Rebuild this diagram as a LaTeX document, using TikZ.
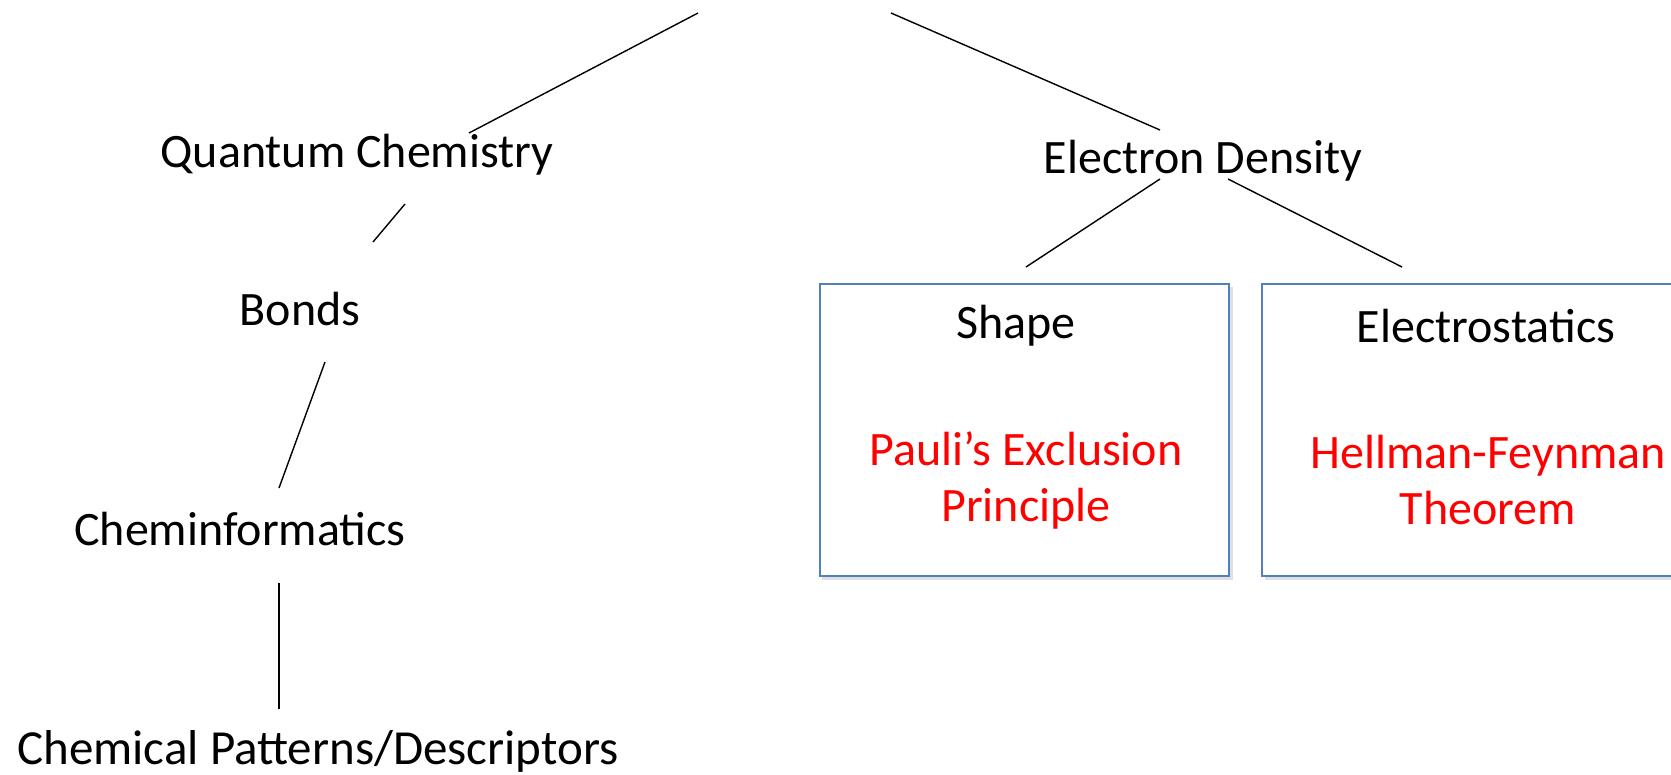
\documentclass[tikz,border=0pt]{standalone}
\usepackage{fontspec}
\setmainfont{Carlito}
\definecolor{boxblue}{RGB}{79,129,189}
\definecolor{txtred}{RGB}{255,0,0}
\begin{document}
\begin{tikzpicture}[x=1pt,y=-1pt,
  lbl/.style={font=\fontsize{48}{56}\selectfont, inner sep=0pt, anchor=center, align=center},
  redlbl/.style={lbl, text=txtred},
  panel/.style={draw=boxblue, line width=1.6pt, fill=white},
  shadowbox/.style={fill=black!12, draw=none},
  conn/.style={line width=1.4pt, black}]
\useasboundingbox (0,0) rectangle (1671,774);
% nodes
\node[lbl] (qc) at (357,155) {Quantum Chemistry};
\node[lbl] (bonds) at (300,309) {Bonds};
\node[lbl] (chem) at (240,529) {Cheminformatics};
\node[font=\fontsize{49}{56}\selectfont, inner sep=0pt] (desc) at (318,751) {Chemical Patterns/Descriptors};
\node[lbl] (ed) at (1203,161) {Electron Density};
% boxes
\fill[shadowbox] (822,287) rectangle (1233,580);
\fill[shadowbox] (1265,287) rectangle (1676,580);
\node[panel, minimum width=409pt, minimum height=292pt, inner sep=0pt, anchor=north west] (shapebox) at (819,283) {};
\node[panel, minimum width=420pt, minimum height=292pt, inner sep=0pt, anchor=north west] (elecbox) at (1261,283) {};
\node[lbl] (shape) at (1016,326) {Shape};
\node[redlbl] (pauli) at (1026,480) {Pauli’s Exclusion\\Principle};
\node[lbl] (estat) at (1486,326) {Electrostatics};
\node[redlbl] (hf) at (1488,480) {Hellman-Feynman\\Theorem};
% connector end points
\coordinate (topL) at (698,13);
\coordinate (topR) at (891,13);
\coordinate (qcN) at (469,133);
\coordinate (edN) at (1160,130);
\coordinate (qcS) at (405,204);
\coordinate (bondsN) at (373,242);
\coordinate (bondsS) at (325,362);
\coordinate (chemN) at (279,488);
\coordinate (chemS) at (279,583);
\coordinate (descN) at (279,709);
\coordinate (edSL) at (1160,179);
\coordinate (shapeN) at (1026,267);
\coordinate (edSR) at (1228,179);
\coordinate (estatN) at (1402,267);
% connectors
\draw[conn] (topL) -- (qcN);
\draw[conn] (topR) -- (edN);
\draw[conn] (qcS) -- (bondsN);
\draw[conn] (bondsS) -- (chemN);
\draw[conn] (chemS) -- (descN);
\draw[conn] (edSL) -- (shapeN);
\draw[conn] (edSR) -- (estatN);
\end{tikzpicture}
\end{document}
